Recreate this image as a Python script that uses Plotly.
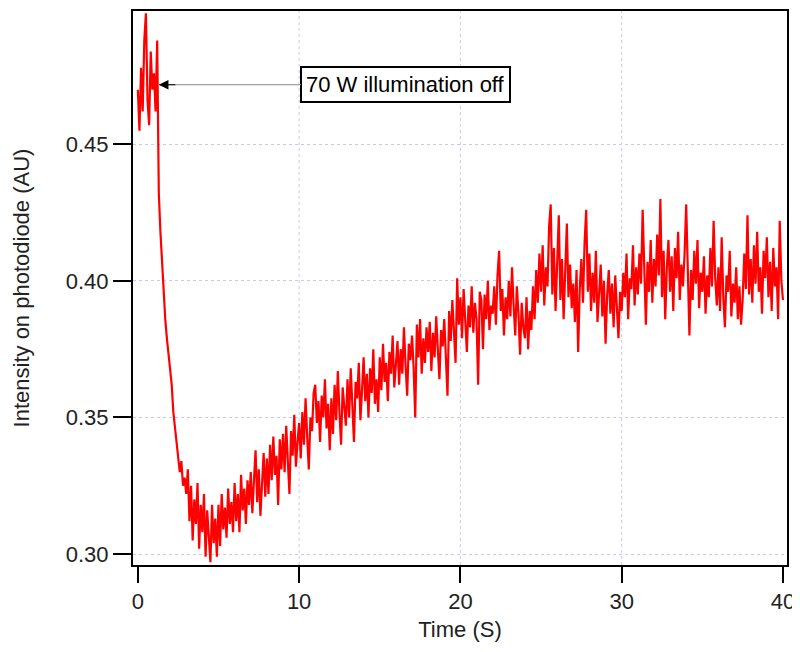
import numpy as np
import plotly.graph_objects as go

t_step = 0.1
signal_milli = [
    470, 455, 478, 462, 488, 498, 466, 457, 484, 470,   # 0 s
    476, 462, 488, 432, 418, 406, 396, 386, 379, 373,   # 1 s
    368, 362, 352, 347, 340, 336, 330, 334, 325, 328,   # 2 s
    322, 331, 312, 325, 305, 320, 311, 326, 302, 318,   # 3 s
    308, 322, 299, 316, 306, 297, 318, 304, 313, 299,   # 4 s
    318, 303, 322, 309, 317, 306, 324, 311, 319, 308,   # 5 s
    326, 312, 322, 308, 329, 316, 324, 311, 327, 318,   # 6 s
    330, 315, 327, 338, 319, 331, 314, 326, 337, 321,   # 7 s
    335, 322, 340, 327, 343, 329, 336, 318, 342, 331,   # 8 s
    344, 330, 347, 334, 322, 345, 336, 351, 332, 341,   # 9 s
    348, 335, 352, 340, 357, 343, 331, 350, 345, 359,   # 10 s
    362, 348, 356, 341, 358, 350, 364, 346, 355, 338,   # 11 s
    357, 344, 362, 349, 367, 352, 340, 361, 355, 347,   # 12 s
    364, 350, 368, 354, 341, 363, 357, 370, 349, 360,   # 13 s
    372, 356, 366, 350, 368, 359, 375, 355, 364, 352,   # 14 s
    372, 360, 377, 363, 370, 356, 374, 366, 380, 361,   # 15 s
    368, 378, 362, 375, 366, 383, 369, 358, 377, 371,   # 16 s
    380, 368, 350, 384, 372, 386, 366, 379, 370, 383,   # 17 s
    374, 385, 367, 381, 372, 387, 375, 364, 382, 376,   # 18 s
    386, 372, 358, 389, 378, 393, 380, 370, 401, 384,   # 19 s
    394, 379, 397, 385, 374, 391, 383, 398, 381, 392,   # 20 s
    386, 362, 396, 393, 375, 395, 386, 400, 382, 391,   # 21 s
    388, 398, 384, 402, 411, 389, 397, 380, 394, 386,   # 22 s
    400, 387, 405, 391, 380, 398, 388, 373, 392, 383,   # 23 s
    379, 394, 375, 389, 382, 398, 386, 404, 392, 410,   # 24 s
    396, 413, 391, 405, 398, 420, 428, 395, 412, 389,   # 25 s
    404, 424, 393, 408, 386, 401, 421, 394, 406, 390,   # 26 s
    399, 385, 404, 374, 397, 408, 392, 414, 426, 396,   # 27 s
    410, 389, 403, 392, 411, 385, 398, 406, 387, 400,   # 28 s
    377, 395, 404, 388, 399, 383, 402, 391, 379, 396,   # 29 s
    389, 403, 394, 410, 386, 401, 397, 413, 391, 405,   # 30 s
    395, 410, 399, 426, 401, 384, 407, 396, 415, 392,   # 31 s
    408, 398, 417, 402, 430, 394, 411, 386, 405, 415,   # 32 s
    396, 409, 389, 412, 401, 418, 393, 406, 398, 410,   # 33 s
    428, 397, 380, 404, 393, 411, 399, 415, 390, 403,   # 34 s
    396, 409, 388, 402, 394, 412, 398, 422, 401, 391,   # 35 s
    405, 389, 416, 394, 383, 402, 396, 411, 387, 399,   # 36 s
    392, 405, 386, 398, 384, 393, 410, 397, 424, 395,   # 37 s
    408, 392, 413, 399, 418, 396, 405, 388, 411, 401,   # 38 s
    416, 394, 407, 389, 412, 398, 405, 386, 422, 400,   # 39 s
    393,                                                # 40 s
]

time_s = np.arange(len(signal_milli)) * t_step
intensity = np.array(signal_milli) / 1000.0

x_ticks = [0, 10, 20, 30, 40]
x_grid = [10, 20, 30]
y_ticks = [0.30, 0.35, 0.40, 0.45]
grid_col = '#c9c9ee'

fig = go.Figure()
fig.add_trace(go.Scatter(x=time_s, y=intensity, mode='lines',
                         line=dict(color='#ff0000', width=2.2), showlegend=False))

# vertical dotted grid only at the inner ticks (none at 0)
for gx in x_grid:
    fig.add_vline(x=gx, line=dict(color=grid_col, width=1, dash='dot'), layer='below')

# gray leader line from the label box, then the black arrow head
fig.add_annotation(x=1.3, y=0.4718, ax=16.6, ay=0.4718, axref='x', ayref='y',
                   text='70 W illumination off', showarrow=True,
                   arrowhead=0, arrowwidth=1, arrowcolor='#8c8c8c',
                   font=dict(family='Liberation Sans, Arial', size=22, color='black'),
                   bordercolor='black', borderwidth=2, borderpad=4, bgcolor='white')
fig.add_annotation(x=1.3, y=0.4718, ax=18, ay=0, text='', showarrow=True,
                   arrowhead=2, arrowsize=1.6, arrowwidth=1.2, arrowcolor='black')

tick_font = dict(family='Liberation Sans, Arial', size=22, color='#222')
title_font = dict(family='Liberation Sans, Arial', size=22, color='#222')
fig.update_xaxes(range=[-0.3, 40.25], tickvals=x_ticks, ticks='outside', ticklen=16,
                 tickwidth=2, tickcolor='black', showline=True, linecolor='black',
                 linewidth=2, mirror=True, showgrid=False, zeroline=False,
                 tickfont=tick_font,
                 title=dict(text='Time (S)', font=title_font, standoff=8))
fig.update_yaxes(range=[0.296, 0.4988], tickvals=y_ticks, tickformat='.2f',
                 ticks='outside', ticklen=18, tickwidth=2, tickcolor='black',
                 showline=True, linecolor='black', linewidth=2, mirror=True,
                 showgrid=True, gridcolor=grid_col, griddash='dot', gridwidth=1,
                 zeroline=False, tickfont=tick_font,
                 title=dict(text='Intensity on photodiode (AU)', font=title_font, standoff=30))

# page body has an 8px margin, so the figure is 8px smaller and shifted
fig.update_layout(width=792, height=644, plot_bgcolor='white', paper_bgcolor='white',
                  margin=dict(l=125, r=13, t=1, b=87))

fig.write_html("out.html")
